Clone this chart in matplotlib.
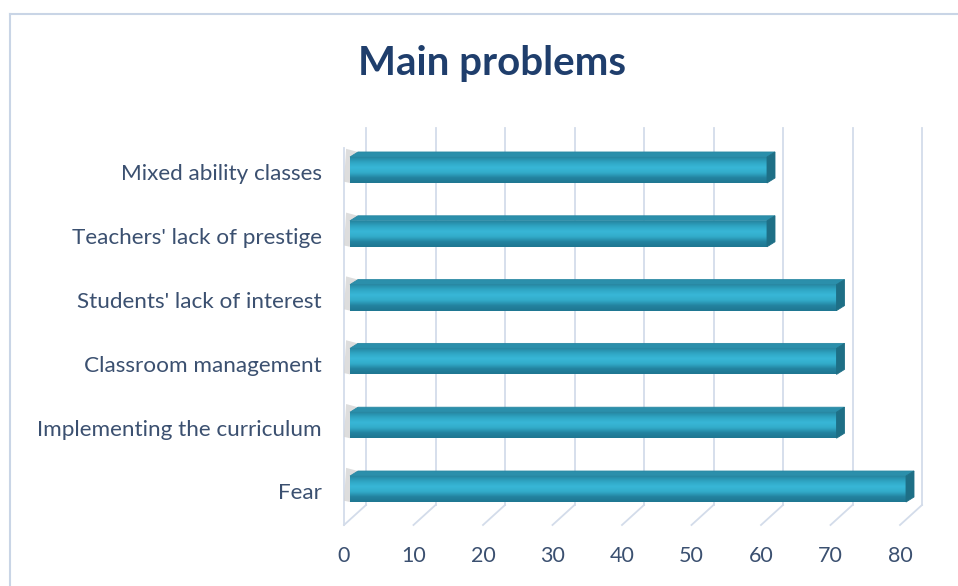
import matplotlib
matplotlib.use("Agg")
import matplotlib.pyplot as plt
import numpy as np
from matplotlib.patches import Polygon
from matplotlib.lines import Line2D
from matplotlib.colors import LinearSegmentedColormap

categories = ["Fear", "Implementing the curriculum", "Classroom management",
              "Students' lack of interest", "Teachers' lack of prestige",
              "Mixed ability classes"]
values = [80, 70, 70, 70, 60, 60]
xticks = [0, 10, 20, 30, 40, 50, 60, 70, 80]
title = "Main problems"

plt.rcParams['font.family'] = ['Lato', 'DejaVu Sans']

W, H = 958, 586
fig = plt.figure(figsize=(W / 100, H / 100), dpi=100)

# axes: x 0->80 maps to px 344->900 ; y rows 525 (bottom) -> 128 (top)
ax = fig.add_axes([344 / W, (H - 525) / H, 556 / W, 397 / H])
XMIN, XMAX = 0, 80
YMIN, YMAX = -0.564, 5.658
ax.set_facecolor('none')

px_x = 556 / 80.0
px_y = 397 / (YMAX - YMIN)
dep_x = 22 / px_x   # wall depth
dep_y = 20 / px_y
grid_c = '#d3dcea'

# floor diagonals and back-wall verticals
for v in xticks:
    ax.plot([v, v + dep_x], [YMIN, YMIN + dep_y], color=grid_c, lw=1.3, clip_on=False)
    ax.plot([v + dep_x, v + dep_x], [YMIN + dep_y, YMAX], color=grid_c, lw=1.3, clip_on=False)
# left wall front edge
ax.plot([0, 0], [YMIN, YMAX - dep_y], color=grid_c, lw=1.3, clip_on=False)

# bars
bar_h = 26 / px_y
s = 6 / px_x
tdx = 8 / px_x
tdy = 5 / px_y
cmap = LinearSegmentedColormap.from_list(
    'bar', ['#2687a2', '#2fa6c4', '#38b7d7', '#33acca', '#2383a0', '#1f7691'])
grad = np.linspace(0, 1, 64).reshape(-1, 1)

for i, v in enumerate(values):
    y0 = i - bar_h / 2
    y1 = i + bar_h / 2
    # grey shadow on left wall
    ax.add_patch(Polygon([[0.0, y0 + 0.02], [s, y0], [s + tdx, y1 + tdy], [0.3, y1 + tdy + 0.05]],
                         closed=True, facecolor='#d2d2d2', edgecolor='none', alpha=0.75,
                         clip_on=False, zorder=2))
    ax.imshow(grad, cmap=cmap, extent=[s, v + s, y0, y1], aspect='auto',
              interpolation='bicubic', origin='upper', zorder=3, clip_on=False)
    # top face
    ax.add_patch(Polygon([[s, y1], [v + s, y1], [v + s + tdx, y1 + tdy], [s + tdx, y1 + tdy]],
                         closed=True, facecolor='#2b8fab', edgecolor='#2a88a3', lw=0.6,
                         zorder=4, clip_on=False))
    # side face
    ax.add_patch(Polygon([[v + s, y0], [v + s + tdx, y0 + tdy], [v + s + tdx, y1 + tdy], [v + s, y1]],
                         closed=True, facecolor='#1e6f86', edgecolor='#1e6f86', lw=0.6,
                         zorder=4, clip_on=False))

label_c = '#3b5070'
for i, c in enumerate(categories):
    ax.text(-22 / px_x, i - 0.07, c, ha='right', va='center', fontsize=16.2, color=label_c)

ax.set_xlim(XMIN, XMAX)
ax.set_ylim(YMIN, YMAX)
ax.set_xticks(xticks)
ax.set_xticklabels([str(t) for t in xticks], fontsize=15.5, color=label_c)
ax.tick_params(axis='x', length=0, pad=15)
ax.set_yticks([])
for sp in ax.spines.values():
    sp.set_visible(False)

fig.text(492 / W, 1 - 63 / H, title, ha='center', va='center', fontsize=29,
         fontweight='bold', color='#1f3e6c')

# chart border
bc = '#c9d5e6'
fig.add_artist(Line2D([10 / W, 1], [1 - 14 / H, 1 - 14 / H], color=bc, lw=1.5))
fig.add_artist(Line2D([10 / W, 10 / W], [0, 1 - 14 / H], color=bc, lw=1.5))

fig.savefig('out.png', dpi=100)
